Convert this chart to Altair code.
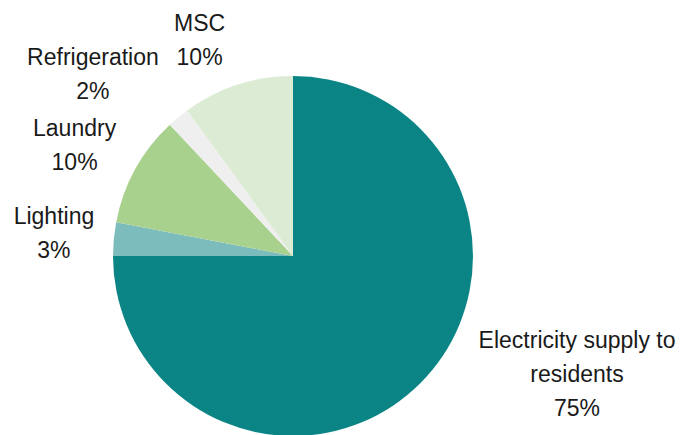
import altair as alt
import pandas as pd

categories = ["Electricity supply to residents", "Lighting", "Laundry", "Refrigeration", "MSC"]
label_text = ["Electricity supply to\nresidents", "Lighting", "Laundry", "Refrigeration", "MSC"]
shares = [75, 3, 10, 2, 10]
colors = ["#0b8485", "#7dbcbc", "#a9d18e", "#efefef", "#dcebd3"]

df = pd.DataFrame({
    "idx": list(range(len(categories))),
    "category": categories,
    "text": label_text,
    "share": shares,
})

CX, CY, R = 293, 256, 180
theta_scale = alt.Scale(domain=[0, 100])

pie = alt.Chart(df).mark_arc(outerRadius=R).encode(
    theta=alt.Theta("share:Q", stack=True, scale=theta_scale),
    color=alt.Color("category:N", scale=alt.Scale(domain=categories, range=colors), legend=None),
    order=alt.Order("idx:Q"),
    x=alt.value(CX),
    y=alt.value(CY),
)

base = alt.Chart(df).transform_window(
    cum="sum(share)", sort=[alt.SortField("idx")], frame=[None, 0]
).transform_calculate(
    mid="datum.cum - datum.share / 2",
    label="datum.text + '\\n' + datum.share + '%'",
)

offsets = {
    "Electricity supply to residents": (132, -67),
    "Lighting": (-25, -19),
    "Laundry": (-30, -23),
    "Refrigeration": (-63, -32),
    "MSC": (-27, -28),
}

layers = [pie]
for cat, (ddx, ddy) in offsets.items():
    layers.append(
        base.transform_filter(alt.datum.category == cat).mark_text(
            radius=215, dx=ddx, dy=ddy, lineBreak="\n", fontSize=23,
            font="Liberation Sans", align="center", baseline="middle",
            lineHeight=34, color="#1a1a1a",
        ).encode(
            theta=alt.Theta("mid:Q", stack=False, scale=theta_scale),
            text="label:N",
            x=alt.value(CX),
            y=alt.value(CY),
        )
    )

chart = alt.layer(*layers).properties(
    width=683, height=435,
    autosize=alt.AutoSizeParams(type="none"),
    padding=0,
).configure_view(stroke=None)

chart.save("out.html", embed_options={"renderer": "svg", "actions": False})
